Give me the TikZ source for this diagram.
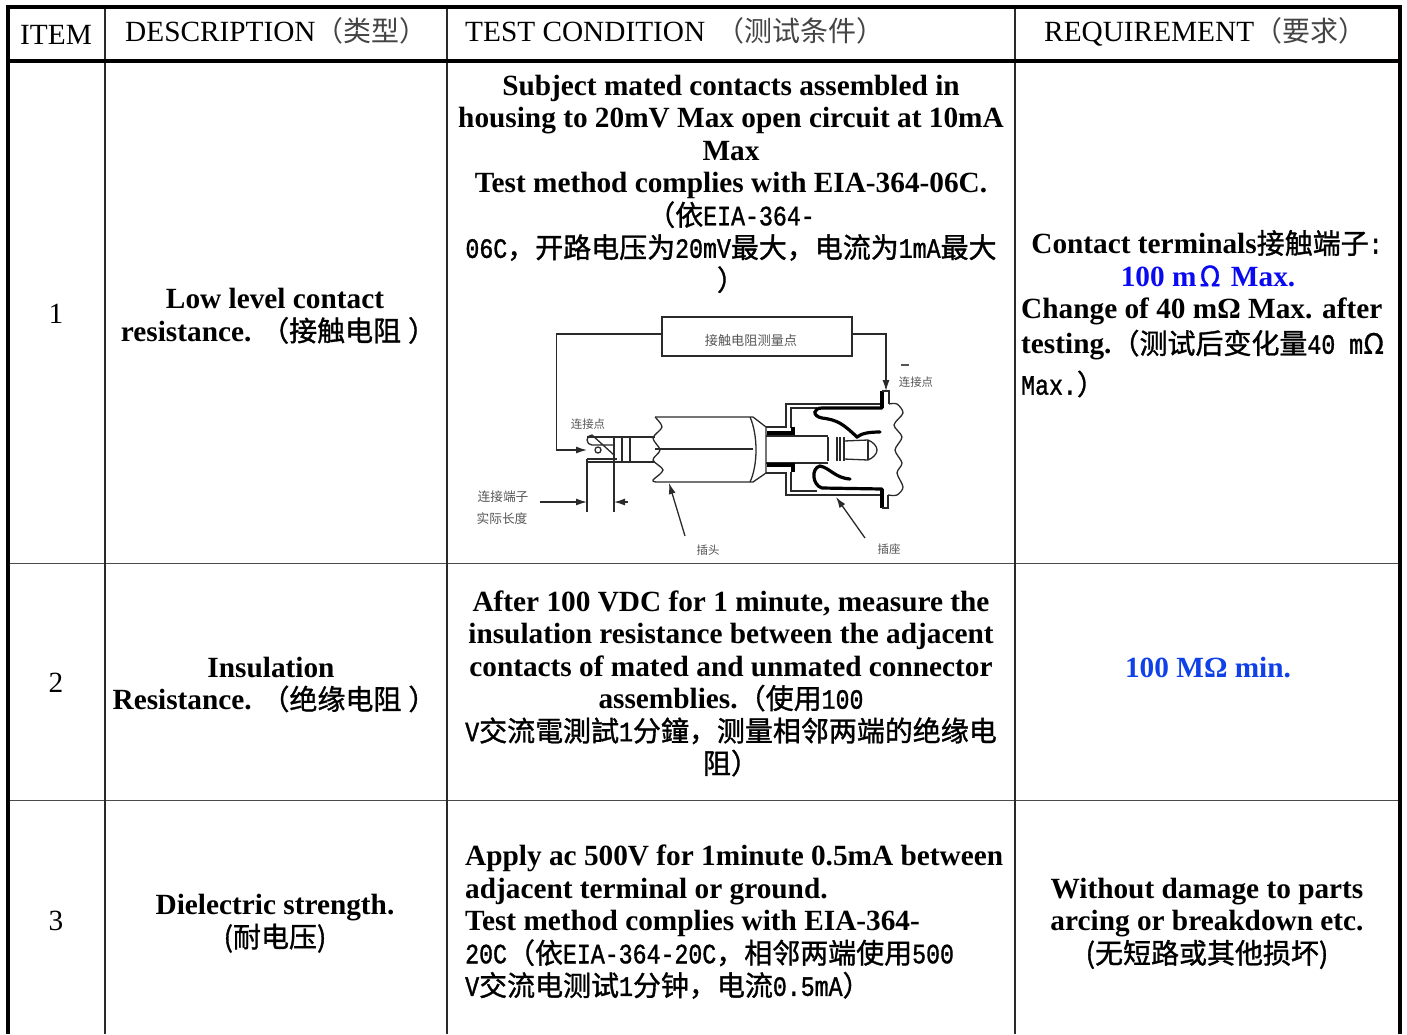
\documentclass[tikz,border=0pt]{standalone}
\usepackage{fontspec}
\usepackage{xcolor}
\setmainfont{Liberation Serif}
\newfontfamily\cjk[Scale=0.955,BoldFont={Noto Sans CJK SC},BoldFeatures={FakeBold=1.2}]{Noto Sans CJK SC}
\newfontfamily\halfmono[Scale=0.955,FakeStretch=0.83,BoldFont={Liberation Mono},BoldFeatures={FakeBold=1.2}]{Liberation Mono}
\newcommand{\zh}[1]{{\cjk #1}}
\newcommand{\hm}[1]{{\halfmono #1}}
\usetikzlibrary{arrows.meta}
\definecolor{inkgray}{HTML}{2A2A2A}
\definecolor{labelgray}{HTML}{555555}
\definecolor{rowgray}{HTML}{4A4A4A}
\definecolor{headzh}{HTML}{444444}
\definecolor{reqblue}{HTML}{0A0AF0}
\definecolor{minblue}{HTML}{1040E8}
\tikzset{
  >={Latex[length=11pt,width=7pt]},
  framerule/.style={line width=4pt,black},
  cellrule/.style={line width=1.2pt,inkgray},
  rowrule/.style={line width=1pt,rowgray},
  headtext/.style={inner sep=0pt,font=\fontsize{29.3}{32.5}\selectfont},
  celltext/.style={inner sep=0pt,align=center,font=\fontsize{29.3}{32.5}\selectfont\bfseries},
  itemtext/.style={inner sep=0pt,font=\fontsize{29.3}{32.5}\selectfont},
  part/.style={line width=1.3pt,inkgray},
  blackpart/.style={line width=3.2pt,black},
  tinylabel/.style={inner sep=0pt,labelgray,font=\fontsize{12}{14}\selectfont\cjk},
  widelabel/.style={tinylabel,font=\fontsize{13.3}{14}\selectfont\cjk},
}
\begin{document}
\begin{tikzpicture}[x=1pt,y=-1pt]
  \useasboundingbox (0,0) rectangle (1407,1034);
  % table rules
  \draw[rowrule] (8,563) -- (1400,563);
  \draw[rowrule] (8,800) -- (1400,800);
  \foreach \colx in {105,447,1015} {
    \draw[cellrule] (\colx,7) -- (\colx,1034);
  }
  \draw[framerule] (1400,1034) -- (1400,7) -- (8,7) -- (8,1034);
  \draw[framerule] (8,61) -- (1400,61);

  % header
  \node[headtext] (headitem) at (56,35) {ITEM};
  \node[headtext,anchor=west] (headdesc) at (125,31) {DESCRIPTION\zh{\color{headzh}（类型）}};
  \node[headtext,anchor=west] (headcond) at (465,31) {TEST CONDITION \hspace{4pt}\zh{\color{headzh}（测试条件）}};
  \node[headtext,anchor=west] (headreq) at (1044,32) {REQUIREMENT\zh{\color{headzh}（要求）}};

  % row 1
  \node[itemtext] (itema) at (56,314) {1};
  \node[celltext] (desca) at (275,316) {Low level contact\\resistance. \zh{（接触电阻\kern7pt）\kern-7pt}};
  \node[celltext] (conda) at (731,184) {Subject mated contacts assembled in\\
    housing to 20mV Max open circuit at 10mA\\
    Max\\
    Test method complies with EIA-364-06C.\\
    \zh{（依}\hm{EIA-364-}\\
    \hm{06C}\zh{，开路电压为}\hm{20mV}\zh{最大，电流为}\hm{1mA}\zh{最大}\\
    \zh{）}};
  \node[celltext] (reqa) at (1207,243) {Contact terminals\zh{接触端子}\hm{:}};
  \node[celltext,reqblue] (reqb) at (1208,276) {100 m\hspace{3pt}\zh{Ω}\hspace{3pt} Max.};
  \node[celltext,anchor=west] (reqc) at (1021,311) {Change of 40 mΩ Max. after};
  \node[celltext,anchor=west] (reqd) at (1021,345) {testing.\zh{（测试后变化量}\hm{40 m}\zh{Ω}};
  \node[celltext,anchor=west] (reqe) at (1021,384) {\hm{Max.}\zh{）}};

  % contact resistance sketch
  \node[draw=inkgray,line width=1.3pt,minimum width=190pt,minimum height=39pt,inner sep=0pt] (meter) at (757,336.5) {};
  \node[tinylabel,font=\fontsize{13.8}{16}\selectfont\cjk] (meterlabel) at (751,340) {接触电阻测量点};
  \coordinate (pinleft) at (587,450);
  \coordinate (pinright) at (886,391);
  \draw[part,->] ([yshift=2.5pt]meter.west) -- ++(-105,0) |- (pinleft);
  \draw[part,->] ([yshift=2.5pt]meter.east) -| (pinright);
  \node[tinylabel] (pointright) at (916,382) {连接点};
  \node[tinylabel] (pointleft) at (588,424) {连接点};
  \node[widelabel] (lengtha) at (503,497) {连接端子};
  \node[widelabel] (lengthb) at (502,519) {实际长度};
  \node[tinylabel] (plug) at (708,550) {插头};
  \node[tinylabel] (socket) at (889,549) {插座};
  \draw[part,labelgray] (901,365) -- (909,365);

  % plug
  \draw[part] (587,437) -- (655,437);
  \draw[part] (587,462) -- (655,462);
  \draw[part] (587,459) -- (617,459);
  \draw[part] (587,459) -- (587,512);
  \draw[part] (614,462) -- (614,512);
  \draw[part,line width=1.8pt] (614,437) -- (614,462);
  \draw[part,line width=1.8pt] (622,437) -- (622,462);
  \draw[part,line width=1.8pt] (630,437) -- (630,462);
  \draw[part] (614,445) -- (592,445) arc (90:270:5) -- (614,455);
  \draw[part] (598,450) circle (3);
  \coordinate (dimleft) at (587,502);
  \coordinate (dimright) at (614,502);
  \draw[part,->] (540,502) -- (dimleft);
  \draw[part,->] (628,502) -- (dimright);
  \draw[part] plot[smooth] coordinates {(655,417) (662,427) (653,438) (660,450) (653,460) (663,470) (653,480) (656,482)};
  \draw[part] (655,417) -- (753,417) -- (766,427) -- (766,473) -- (753,482) -- (656,482);
  \draw[part] (655,449) -- (753,449);
  \draw[part] (750,417) .. controls (758,435) and (758,465) .. (750,482);
  \draw[part] (766,436) -- (828,436);
  \draw[part] (766,463) -- (828,463);
  \foreach \collarx in {828,837,840,844} {
    \draw[part] (\collarx,437) -- (\collarx,461);
  }
  \draw[part] (844,441) -- (868,440) .. controls (873,442) and (877,446) .. (877,450)
    .. controls (877,454) and (873,458) .. (868,460) -- (844,459);
  \draw[part] (868,440) -- (868,460);

  % socket
  \draw[part] (766,427) -- (786,427) -- (786,404) -- (880,404);
  \draw[part] (766,473) -- (786,473) -- (786,495) -- (880,495);
  \draw[part] (791,428) -- (791,408) -- (817,408);
  \draw[part] (791,472) -- (791,491) -- (817,491);
  \draw[blackpart] (767,433) -- (793,433) -- (793,427);
  \draw[blackpart] (767,465) -- (793,465) -- (793,472);
  \draw[blackpart,line cap=round] (882,408) -- (822,408) .. controls (813,408) and (812,416) .. (822,418)
    .. controls (838,420) and (843,424) .. (857,437) .. controls (862,433) and (870,432) .. (880,432);
  \draw[blackpart,line cap=round] (882,489) -- (822,488) .. controls (812,485) and (811,468) .. (820,466)
    .. controls (830,468) and (835,478) .. (850,479);
  \draw[blackpart] (882,391) -- (882,408);
  \draw[blackpart] (882,489) -- (882,508);
  \draw[part] (882,391) -- (889,391) -- (889,404);
  \draw[part] (882,508) -- (888,508) -- (888,495);
  \draw[part] plot[smooth] coordinates {(889,404) (897,404) (903,413) (894,425) (902,437) (895,450) (902,463) (897,473) (903,487) (897,495) (888,495)};

  % leaders
  \coordinate (plugtip) at (669,483);
  \coordinate (sockettip) at (836,497);
  \draw[part,->] (685,536) -- (plugtip);
  \draw[part,->] (865,538) -- (sockettip);

  % row 2
  \node[itemtext] (itemb) at (56,683) {2};
  \node[celltext] (descb) at (271,684.5) {Insulation\\Resistance. \zh{（绝缘电阻\kern7pt）\kern-7pt}};
  \node[celltext] (condb) at (731,683.5) {After 100 VDC for 1 minute, measure the\\
    insulation resistance between the adjacent\\
    contacts of mated and unmated connector\\
    assemblies.\zh{（使用}\hm{100}\\
    \hm{V}\zh{交流電測試}\hm{1}\zh{分鐘，测量相邻两端的绝缘电}\\
    \zh{阻）}};
  \node[celltext,minblue] (reqmin) at (1208,668) {100 MΩ min.};

  % row 3
  \node[itemtext] (itemc) at (56,921) {3};
  \node[celltext] (descc) at (275,923.5) {Dielectric strength.\\\zh{(耐电压)}};
  \node[celltext,align=left,anchor=west] (condc) at (465,922) {Apply ac 500V for 1minute 0.5mA between\\
    adjacent terminal or ground.\\
    Test method complies with EIA-364-\\
    \hm{20C}\zh{（依}\hm{EIA-364-20C}\zh{，相邻两端使用}\hm{500}\\
    \hm{V}\zh{交流电测试}\hm{1}\zh{分钟，电流}\hm{0.5mA}\zh{）}};
  \node[celltext] (reqf) at (1207,923.5) {Without damage to parts\\arcing or breakdown etc.\\\zh{(无短路或其他损坏)}};
\end{tikzpicture}
\end{document}
